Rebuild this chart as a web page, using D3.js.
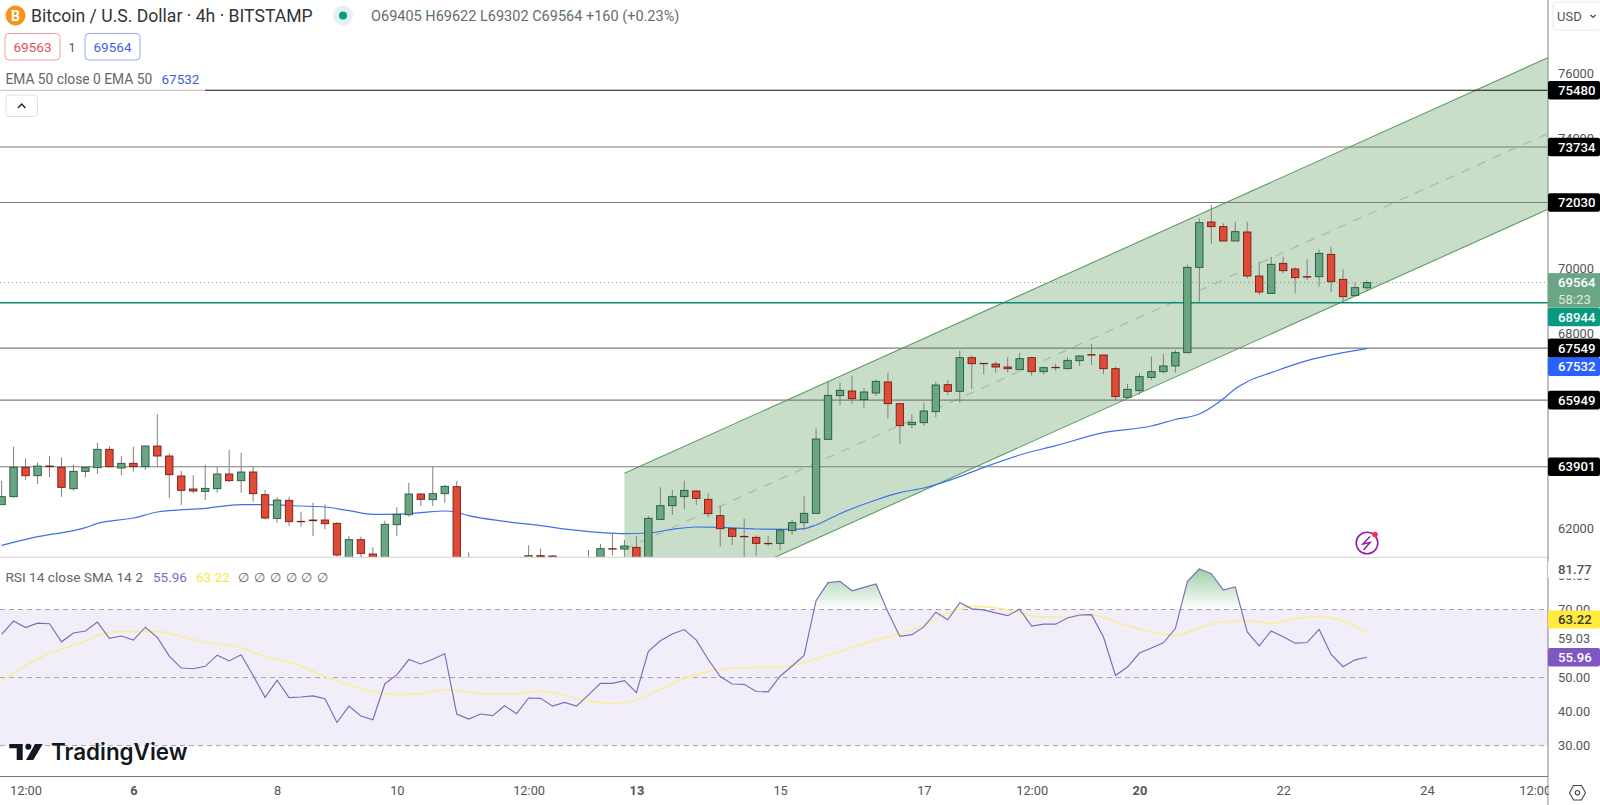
<!DOCTYPE html>
<html>
<head>
<meta charset="utf-8">
<script src="https://cdn.jsdelivr.net/npm/d3@7"></script>
<style>
    body {margin: 0; background: #fff; overflow: hidden;}
    svg {display: block; font-family: Roboto, sans-serif;}
    .axis path, .axis line {display: none;}
</style>
</head>
<body>
<svg id="chart" width="1600" height="805"></svg>
<script>
// candles, oldest first (4h bars). Those below the pane edge are rough guesses, only their tops show.
let opens = [62733,62979,63881,63625,63922,63881,63225,63758,63871,64435,63861,64004,63902,64537,64230,63615,63215,63143,63225,63676,
    63471,63738,63040,62312,62866,62220,62261,62261,62158,60900,61656,61215,60950,62117,62425,63061,62887,63071,63286,60500,
    60300,60400,60350,60600,60800,61164,61154,61000,60850,61000,61060,61379,61369,61420,60950,62281,62702,62979,63153,62897,
    62394,61994,61758,61728,61543,61543,61933,62179,62466,64743,66086,66230,65963,66168,66507,65840,65194,65256,65594,66425,
    66220,67255,67081,67060,66968,66886,67255,66825,66958,66917,67163,67348,67337,66917,66035,66240,66650,66825,67000,67409,
    70034,71429,71285,70844,71121,69767,69234,70157,69983,69747,69747,70434,69665,69163,69405];
let highs = [63471,64517,64158,64025,64230,64189,63963,63902,64640,64537,64230,64517,64558,65522,64312,63768,63635,63963,63902,64414,
    64332,63902,63184,62958,62979,62517,62794,62743,62199,61769,61748,61420,62240,62651,63409,63081,63902,63338,63461,61266,
    60700,60800,60900,60950,61482,61379,61180,61080,61050,61338,61523,61871,61646,61769,62384,63266,63184,63471,63184,63081,
    62692,62035,62302,61789,61769,62005,62261,62999,65081,66506,66486,66702,66312,66589,66794,65840,65512,65871,66507,66568,
    67471,67327,67085,67132,67266,67409,67286,66978,67060,67266,67327,67676,67348,66978,66445,66773,67286,67368,67491,70116,
    71541,71952,71388,71439,71439,70219,70362,70362,70034,70280,70588,70670,69973,69573,69622];
let lows = [62733,62950,63491,63368,63573,62979,63163,63573,63676,63881,63635,63748,63799,63881,62938,62722,63081,62876,63102,63430,
    63102,62825,62281,62179,62076,62056,61769,61974,61133,60800,61102,60850,60900,61769,62363,62692,62692,62794,60200,60100,
    60000,60100,60150,60400,60600,60900,60950,60700,60700,60800,60900,61164,61000,60850,60900,62281,62415,62589,62722,62343,
    61441,61492,61090,61154,61461,61338,61810,61953,62466,64743,65799,65830,65707,66076,65379,64600,65081,65153,65420,66107,
    65871,66291,66743,66794,66804,66876,66702,66743,66855,66896,66999,67030,66753,65953,65994,66117,66568,66773,66794,67409,
    68978,70752,70834,70844,69696,69183,69234,69850,69234,69644,69439,69275,68978,69152,69302];
let closes = [62979,63881,63625,63922,63902,63266,63758,63881,64435,63902,64004,63902,64537,64230,63655,63174,63153,63235,63676,63471,
    63738,63071,62322,62876,62210,62210,62240,62148,61184,61656,61235,60950,62128,62435,63061,62897,63071,63297,60500,60300,
    60400,60350,60600,60500,61164,61133,61120,60850,61000,61060,61379,61370,61461,60950,62312,62702,62979,63174,62927,62456,
    61994,61758,61750,61543,61533,61953,62179,62466,64753,66096,66250,65994,66199,66527,65840,65163,65266,65615,66414,66220,
    67255,67071,67075,66968,66917,67225,66825,66948,66950,67173,67307,67340,66917,66056,66281,66670,66825,67000,67409,70034,
    71408,71285,70844,71131,69767,69275,70126,69931,69716,69740,70465,69593,69132,69409,69564];

// EMA 50, read at these bars
let emaBars = [0,3,7,8,11,13,14,17,20,22,25,27,29,31,33,35,37,38,39,42,45,48,52,54,56,58,60,63,66,67,68,70,73,75,77,80,82,85,88,92,96,98,100,102,103,104,106,109,110,112,114];
let emaValues = [61480,61748,62025,62158,62322,62507,62548,62620,62733,62733,62692,62661,62548,62435,62445,62487,62538,62497,62394,62220,62087,61943,61840,61861,61974,62046,62035,61984,61974,61994,62107,62456,62876,63102,63245,63594,63881,64261,64548,64948,65153,65354,65520,65990,66300,66517,66794,67163,67255,67409,67532];

let rsiValues = [62.7,66.6,64.7,66.0,65.8,60.5,63.1,63.7,66.3,61.5,62.2,61.0,64.8,61.8,56.3,52.8,52.6,53.3,56.6,54.9,
    56.7,50.6,44.2,49.2,44.1,44.3,44.6,43.8,36.8,41.6,38.7,37.6,48.2,50.8,55.3,54.0,55.4,57.0,39.3,37.8,
    39.3,38.8,41.7,39.4,44.0,43.9,41.6,42.7,41.6,44.9,48.3,48.3,49.1,45.6,57.7,60.8,62.8,64.1,61.0,55.3,
    50.3,48.1,48.0,45.9,45.8,50.4,53.4,56.5,72.6,77.9,78.3,75.5,76.5,77.5,69.3,62.1,62.6,64.9,69.2,67.0,
    72.0,70.2,69.9,69.0,68.2,70.1,65.1,65.7,65.7,67.5,68.4,68.5,61.9,50.6,53.1,57.2,58.7,60.2,64.4,78.2,
    81.9,80.5,75.7,76.6,63.4,59.3,63.7,62.0,60.1,60.3,64.2,56.8,53.2,55.2,55.96];
let smaBars = [0,2,3,5,7,8,10,13,14,17,20,22,24,28,31,33,35,37,39,41,43,45,46,48,51,53,55,57,60,63,65,67,70,73,75,77,79,81,83,85,87,89,91,93,95,97,98,100,102,104,106,108,110,112,114];
let smaValues = [49.2,53.5,55.5,58.3,60.7,62.4,63.5,63.6,63.0,60.3,58.8,56.2,54.6,49.0,45.9,45.0,45.3,46.5,45.7,45.1,45.3,46.0,45.6,43.9,42.3,43.5,46.6,49.7,52.4,53.0,53.0,54.4,57.7,61.0,62.9,65.4,68.9,70.9,70.5,69.1,67.8,67.8,68.5,66.4,64.2,62.8,62.4,64.6,66.4,66.7,65.9,67.3,67.9,66.6,63.22];

let levels = [75480, 73734, 72030, 67549, 65949, 63901];
let lastPrice = 69564;
let supportLevel = 68944;
let priceTicks = [76000, 74000, 72000, 70000, 68000, 66000, 64000, 62000];
let rsiTicks = [80, 70, 50, 40, 30];
let rsiBands = [70, 50, 30];

let timeTickBars = [2, 11, 23, 33, 44, 53, 65, 77, 86, 95, 107, 119, 128];
let timeTickLabels = ["12:00", "6", "8", "10", "12:00", "13", "15", "17", "12:00", "20", "22", "24", "12:00"];
let boldTimeLabels = ["6", "13", "20"];

// parallel channel, as two end bars and the price of each edge there
let channelBars = [52, 129.1];
let channelUpper = [63698, 76483];
let channelLower = [59031, 71819];

let upColor = '#6ba583', upBorder = '#1f5a3c';
let downColor = '#e04a38', downBorder = '#7c1a10';
let axisText = '#555';

let axisX = 1548, mainBottom = 557.3, rsiBottom = 776.5;

let x = d3.scaleLinear().domain([0, 114]).range([1.6, 1367]);
let y = d3.scaleLinear().domain([61114, 78258]).range([mainBottom, 0]);
let yRsi = d3.scaleLinear().domain([20.93, 85.34]).range([rsiBottom, mainBottom]);

let svg = d3.select('#chart');
let defs = svg.append('defs');
defs.append('clipPath').attr('id', 'clipMain').append('rect').attr('width', axisX).attr('height', mainBottom);
defs.append('clipPath').attr('id', 'clipRsi').append('rect').attr('y', mainBottom).attr('width', axisX).attr('height', rsiBottom - mainBottom);
defs.append('clipPath').attr('id', 'clipOver').append('rect').attr('y', mainBottom).attr('width', axisX).attr('height', yRsi(70) - mainBottom);
let grad = defs.append('linearGradient').attr('id', 'overFill').attr('gradientUnits', 'userSpaceOnUse')
    .attr('x1', 0).attr('x2', 0).attr('y1', yRsi(82)).attr('y2', yRsi(70));
grad.append('stop').attr('offset', 0).attr('stop-color', '#8cc796').attr('stop-opacity', 0.85);
grad.append('stop').attr('offset', 1).attr('stop-color', '#8cc796').attr('stop-opacity', 0);

// main pane
let main = svg.append('g').attr('clip-path', 'url(#clipMain)');

let channelPoly = [[x(channelBars[0]), y(channelUpper[0])], [x(channelBars[1]), y(channelUpper[1])],
    [x(channelBars[1]), y(channelLower[1])], [x(channelBars[0]), y(channelLower[0])]];
main.append('path').attr('d', d3.line()(channelPoly) + 'Z').attr('fill', 'rgba(76,145,76,0.3)');

[channelUpper, channelLower].forEach(function (edge) {
    main.append('line')
        .attr('x1', x(channelBars[0])).attr('x2', x(channelBars[1]))
        .attr('y1', y(edge[0])).attr('y2', y(edge[1]))
        .attr('stroke', '#5f9c5f').attr('stroke-width', 1.1);
});
main.append('line')
    .attr('x1', x(channelBars[0])).attr('x2', x(channelBars[1]))
    .attr('y1', y((channelUpper[0] + channelLower[0]) / 2)).attr('y2', y((channelUpper[1] + channelLower[1]) / 2))
    .attr('stroke', '#a9bda9').attr('stroke-width', 1.3).attr('stroke-dasharray', '9 8');

main.selectAll('.level').data(levels).enter().append('line').attr('class', 'level')
    .attr('x1', 0).attr('x2', axisX)
    .attr('y1', d => y(d)).attr('y2', d => y(d))
    .attr('stroke', d => d === levels[0] ? '#111' : '#7c7c7c')
    .attr('stroke-width', 1.1);

main.append('line').attr('x1', 0).attr('x2', axisX).attr('y1', y(lastPrice)).attr('y2', y(lastPrice))
    .attr('stroke', '#8d9a93').attr('stroke-width', 1).attr('stroke-dasharray', '1 3');
main.append('line').attr('x1', 0).attr('x2', axisX).attr('y1', y(supportLevel)).attr('y2', y(supportLevel))
    .attr('stroke', '#0c8a72').attr('stroke-width', 1.4);

let emaLine = d3.line().x(d => x(d[0])).y(d => y(d[1])).curve(d3.curveMonotoneX);
main.append('path').attr('d', emaLine(d3.zip(emaBars, emaValues)))
    .attr('fill', 'none').attr('stroke', '#3f72e6').attr('stroke-width', 1.2);

// candles
let bars = d3.range(closes.length);
main.selectAll('.wick').data(bars).enter().append('line').attr('class', 'wick')
    .attr('x1', d => x(d)).attr('x2', d => x(d))
    .attr('y1', d => y(highs[d])).attr('y2', d => y(lows[d]))
    .attr('stroke', '#808080').attr('stroke-width', 1);
main.selectAll('.body').data(bars).enter().append('rect').attr('class', 'body')
    .attr('x', d => x(d) - 3.7).attr('width', 7.4)
    .attr('y', d => y(Math.max(opens[d], closes[d])))
    .attr('height', d => Math.max(0.4, Math.abs(y(opens[d]) - y(closes[d]))))
    .attr('fill', d => closes[d] >= opens[d] ? upColor : downColor)
    .attr('stroke', d => closes[d] >= opens[d] ? upBorder : downBorder)
    .attr('stroke-width', 0.9);

// pane separator
svg.append('line').attr('x1', 0).attr('x2', axisX).attr('y1', mainBottom).attr('y2', mainBottom)
    .attr('stroke', '#dcdcdc').attr('stroke-width', 1.2);

// RSI pane
let rsiPane = svg.append('g').attr('clip-path', 'url(#clipRsi)');
rsiPane.append('rect').attr('x', 0).attr('width', axisX)
    .attr('y', yRsi(70)).attr('height', yRsi(30) - yRsi(70))
    .attr('fill', '#f1edf9');
rsiPane.selectAll('.band').data(rsiBands).enter().append('line').attr('class', 'band')
    .attr('x1', 0).attr('x2', axisX)
    .attr('y1', d => yRsi(d)).attr('y2', d => yRsi(d))
    .attr('stroke', '#a6a2ad').attr('stroke-width', 1).attr('stroke-dasharray', '5 4');

rsiPane.append('path')
    .attr('clip-path', 'url(#clipOver)')
    .attr('d', d3.area().x((d, i) => x(i)).y0(yRsi(70)).y1(d => yRsi(d))(rsiValues))
    .attr('fill', 'url(#overFill)');
rsiPane.append('path')
    .attr('d', d3.line().x(d => x(d[0])).y(d => yRsi(d[1])).curve(d3.curveMonotoneX)(d3.zip(smaBars, smaValues)))
    .attr('fill', 'none').attr('stroke', '#f8ee9e').attr('stroke-width', 1.7);
rsiPane.append('path')
    .attr('d', d3.line().x((d, i) => x(i)).y(d => yRsi(d))(rsiValues))
    .attr('fill', 'none').attr('stroke', '#7c6cb8').attr('stroke-width', 1.15);

// right price axis and time axis
svg.append('rect').attr('x', axisX).attr('width', 52).attr('height', 805).attr('fill', '#fff');
svg.append('line').attr('x1', axisX).attr('x2', axisX).attr('y1', 0).attr('y2', 805).attr('stroke', '#8a8a8a').attr('stroke-width', 1.1);
svg.append('line').attr('x1', 0).attr('x2', axisX).attr('y1', rsiBottom).attr('y2', rsiBottom).attr('stroke', '#777').attr('stroke-width', 1.1);

let priceAxis = svg.append('g').attr('class', 'axis').attr('transform', 'translate(1558,0)')
    .call(d3.axisRight(y).tickValues(priceTicks).tickSize(0).tickPadding(0).tickFormat(d3.format('d')));
let rsiAxis = svg.append('g').attr('class', 'axis').attr('transform', 'translate(1558,0)')
    .call(d3.axisRight(yRsi).tickValues(rsiTicks).tickSize(0).tickPadding(0).tickFormat(d3.format('.2f')));
let timeAxis = svg.append('g').attr('class', 'axis')
    .attr('transform', 'translate(0,' + rsiBottom + ')')
    .call(d3.axisBottom(x).tickValues(timeTickBars).tickSize(0).tickPadding(9)
        .tickFormat((d, i) => timeTickLabels[i]));
timeAxis.selectAll('text').each(function (d, i) {
    d3.select(this).attr('font-weight', boldTimeLabels.indexOf(timeTickLabels[i]) >= 0 ? 700 : 400);
});
[priceAxis, rsiAxis, timeAxis].forEach(function (ax) {
    ax.selectAll('text').attr('fill', axisText).style('font-size', '12.8px').style('font-family', 'Roboto');
});
svg.append('rect').attr('x', axisX + 0.7).attr('y', rsiBottom + 1).attr('width', 51).attr('height', 27).attr('fill', '#fff');

// boxes on the price axis
function axisBox(text, cy, fill, color, h) {
    svg.append('rect').attr('x', axisX).attr('y', cy - h / 2).attr('width', 52).attr('height', h)
        .attr('fill', fill).attr('rx', 2);
    svg.append('text').attr('x', 1558).attr('y', cy).attr('dy', '0.35em')
        .attr('fill', color).attr('font-size', 13.2).attr('font-weight', 500).text(text);
}
levels.forEach(function (d) {
    axisBox(String(d), y(d), '#000', '#fff', 18.6);
});
// last price box is two lines high
svg.append('rect').attr('x', axisX).attr('y', y(lastPrice) - 9.5).attr('width', 52).attr('height', 34.5).attr('fill', upColor);
svg.append('text').attr('x', 1558).attr('y', y(lastPrice)).attr('dy', '0.35em').attr('fill', '#fff').attr('font-size', 13.2).attr('font-weight', 500).text(lastPrice);
svg.append('text').attr('x', 1558).attr('y', y(lastPrice) + 16.4).attr('dy', '0.35em').attr('fill', '#dcebe2').attr('font-size', 13.2).text('58:23');
axisBox(String(supportLevel), y(supportLevel) + 14.2, '#089981', '#fff', 18.6);
axisBox('67549', y(67549), '#000', '#fff', 18.6);
axisBox('67532', y(67532) + 18, '#2962ff', '#fff', 18.6);

axisBox('81.77', yRsi(81.77), '#fff', axisText, 18);
axisBox('63.22', yRsi(63.22) - 13, '#ffeb3b', '#333', 18);
svg.append('text').attr('x', 1558).attr('y', yRsi(59.03) - 8).attr('dy', '0.35em').attr('fill', axisText).attr('font-size', 12.8).text('59.03');
axisBox('55.96', yRsi(55.96), '#7e57c2', '#fff', 18.6);

// legend on top of the chart
svg.append('rect').attr('x', 0).attr('y', 68).attr('width', 205).attr('height', 23).attr('fill', '#fff').attr('opacity', 0.72);
svg.append('circle').attr('cx', 15.5).attr('cy', 15.5).attr('r', 10).attr('fill', '#f7931a');
svg.append('text').attr('x', 15.5).attr('y', 20.5).attr('text-anchor', 'middle').attr('fill', '#fff').attr('font-size', 14).attr('font-weight', 700).text('B');
svg.append('text').attr('x', 31).attr('y', 21.5).attr('fill', '#333').attr('font-size', 17.6).text('Bitcoin / U.S. Dollar · 4h · BITSTAMP');
svg.append('circle').attr('cx', 343).attr('cy', 15.5).attr('r', 10).attr('fill', 'rgba(8,153,129,0.12)');
svg.append('circle').attr('cx', 343).attr('cy', 15.5).attr('r', 4).attr('fill', '#089981');
svg.append('text').attr('x', 371).attr('y', 20.5).attr('fill', '#5f6f6b').attr('font-size', 14.5).text('O69405 H69622 L69302 C69564 +160 (+0.23%)');

svg.append('rect').attr('x', 5).attr('y', 33.5).attr('width', 55).attr('height', 26.5).attr('rx', 4).attr('fill', '#fff').attr('stroke', '#efa3a9');
svg.append('text').attr('x', 32.5).attr('y', 51.5).attr('text-anchor', 'middle').attr('fill', '#e5505c').attr('font-size', 13.5).text('69563');
svg.append('text').attr('x', 72).attr('y', 51.5).attr('text-anchor', 'middle').attr('fill', '#555').attr('font-size', 12.5).text('1');
svg.append('rect').attr('x', 85).attr('y', 33.5).attr('width', 55).attr('height', 26.5).attr('rx', 4).attr('fill', '#fff').attr('stroke', '#95a9f0');
svg.append('text').attr('x', 112.5).attr('y', 51.5).attr('text-anchor', 'middle').attr('fill', '#3f62e0').attr('font-size', 13.5).text('69564');

svg.append('text').attr('x', 5.4).attr('y', 84).attr('fill', '#666').attr('font-size', 13.8).text('EMA 50 close 0 EMA 50');
svg.append('text').attr('x', 161.5).attr('y', 84).attr('fill', '#3f62e0').attr('font-size', 13.5).text('67532');

svg.append('rect').attr('x', 6).attr('y', 95).attr('width', 31.5).attr('height', 21.5).attr('rx', 3).attr('fill', '#fff').attr('stroke', '#e0e0e0');
svg.append('path').attr('d', 'M18 108 L21.7 104 L25.4 108').attr('fill', 'none').attr('stroke', '#222').attr('stroke-width', 1.4);

svg.append('rect').attr('x', 1553).attr('y', 2).attr('width', 50).attr('height', 28).attr('rx', 4).attr('fill', '#fff').attr('stroke', '#e8e8e8');
svg.append('text').attr('x', 1557).attr('y', 21).attr('fill', '#555').attr('font-size', 13).text('USD');
svg.append('path').attr('d', 'M1590.5 15 L1593 17.5 L1595.5 15').attr('fill', 'none').attr('stroke', '#444').attr('stroke-width', 1.2);

svg.append('text').attr('x', 5.4).attr('y', 581.5).attr('fill', '#666').attr('font-size', 13.7).text('RSI 14 close SMA 14 2');
svg.append('text').attr('x', 153).attr('y', 581.5).attr('fill', '#7e6bc0').attr('font-size', 13.5).text('55.96');
svg.append('text').attr('x', 196).attr('y', 581.5).attr('fill', '#f5e642').attr('font-size', 13.5).text('63.22');
[243, 259, 275, 291, 306, 322].forEach(function (px) {
    svg.append('text').attr('x', px).attr('y', 581.5).attr('text-anchor', 'middle').attr('fill', '#666').attr('font-size', 13).text('∅');
});

// TradingView logo
let logo = svg.append('g').attr('fill', '#131722');
logo.append('path').attr('d', 'M9.3 744 H22.7 V760 H16.7 V748.3 H9.3 Z');
logo.append('circle').attr('cx', 28.3).attr('cy', 746.7).attr('r', 3);
logo.append('path').attr('d', 'M35 744 H42.7 L33.3 760 H26 Z');
logo.append('text').attr('x', 51).attr('y', 760).attr('font-family', 'Inter').attr('font-size', 22.4).attr('font-weight', 600).text('TradingView');

// lightning badge
svg.append('circle').attr('cx', 1367).attr('cy', 543).attr('r', 10.8).attr('fill', '#fff').attr('stroke', '#8e24aa').attr('stroke-width', 1.6);
svg.append('path').attr('d', 'M1370 536.5 L1363 544 L1370 542.5 L1363.5 550').attr('fill', 'none').attr('stroke', '#8e24aa').attr('stroke-width', 1.6);
svg.append('circle').attr('cx', 1375).attr('cy', 534.5).attr('r', 2.8).attr('fill', '#f23645');

// settings hexagon
svg.append('path').attr('d', 'M1569.5 792.7 L1573.5 785.5 L1581.5 785.5 L1585.5 792.7 L1581.5 800 L1573.5 800 Z')
    .attr('fill', 'none').attr('stroke', '#444').attr('stroke-width', 1.1);
svg.append('circle').attr('cx', 1577.5).attr('cy', 792.7).attr('r', 2.2).attr('fill', 'none').attr('stroke', '#444').attr('stroke-width', 1.1);
</script>
</body>
</html>
